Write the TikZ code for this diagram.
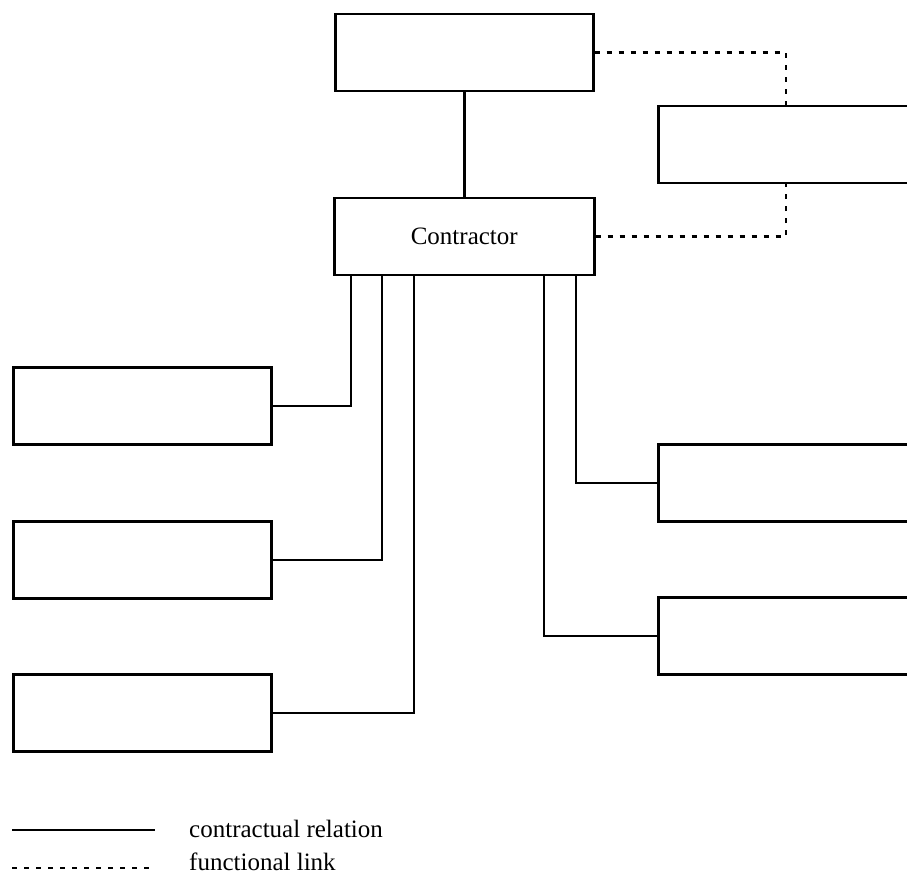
\documentclass[tikz,border=0pt]{standalone}
\usepackage{fontspec}
\setmainfont{Liberation Serif}
\usetikzlibrary{calc}
\begin{document}
\begin{tikzpicture}[x=1pt,y=-1pt,
  box/.style={draw,line width=2.5pt,anchor=north west,inner sep=0pt,minimum height=77pt},
  rel/.style={line width=2.5pt},
  func/.style={line width=2.5pt,dash pattern=on 5pt off 7pt},
  txt/.style={font=\fontsize{25}{30}\selectfont,inner sep=0pt}]
\useasboundingbox (0,0) rectangle (907,877);
\clip (0,0) rectangle (907,877);
% boxes
\node[box,minimum width=258pt] (top) at (334,13) {};
\node[box,minimum width=300pt] (rb) at (657,105) {};
\node[box,minimum width=260pt] (con) at (333,197) {};
\node[txt] (contxt) at (con.center) {Contractor};
\node[box,minimum width=258pt] (l1) at (12,366) {};
\node[box,minimum width=258pt] (l2) at (12,520) {};
\node[box,minimum width=258pt] (l3) at (12,673) {};
\node[box,minimum width=300pt] (r1) at (657,443) {};
\node[box,minimum width=300pt] (r2) at (657,596) {};
% helper coordinates
\coordinate (dx) at (786,0);
\coordinate (a1) at (351,0);
\coordinate (a2) at (382,0);
\coordinate (a3) at (414,0);
\coordinate (b1) at (576,0);
\coordinate (b2) at (544,0);
% connectors
\draw[rel] (top.south) -- (top.south |- con.north);
\draw[func] (top.east) -| (rb.north west -| dx);
\draw[func] (con.east) -| (rb.south west -| dx);
\draw[rel] (l1.east) -| (con.south -| a1);
\draw[rel] (l2.east) -| (con.south -| a2);
\draw[rel] (l3.east) -| (con.south -| a3);
\draw[rel] (r1.west) -| (con.south -| b1);
\draw[rel] (r2.west) -| (con.south -| b2);
% legend
\coordinate (s1) at (12,830);
\coordinate (s2) at (155,830);
\coordinate (f1) at (12,868);
\coordinate (f2) at (155,868);
\draw[rel] (s1) -- (s2);
\draw[func] (f1) -- (f2);
\node[txt,anchor=base west] (lt1) at (189,837) {contractual relation};
\node[txt,anchor=base west] (lt2) at (189,870) {functional link};
\end{tikzpicture}
\end{document}
